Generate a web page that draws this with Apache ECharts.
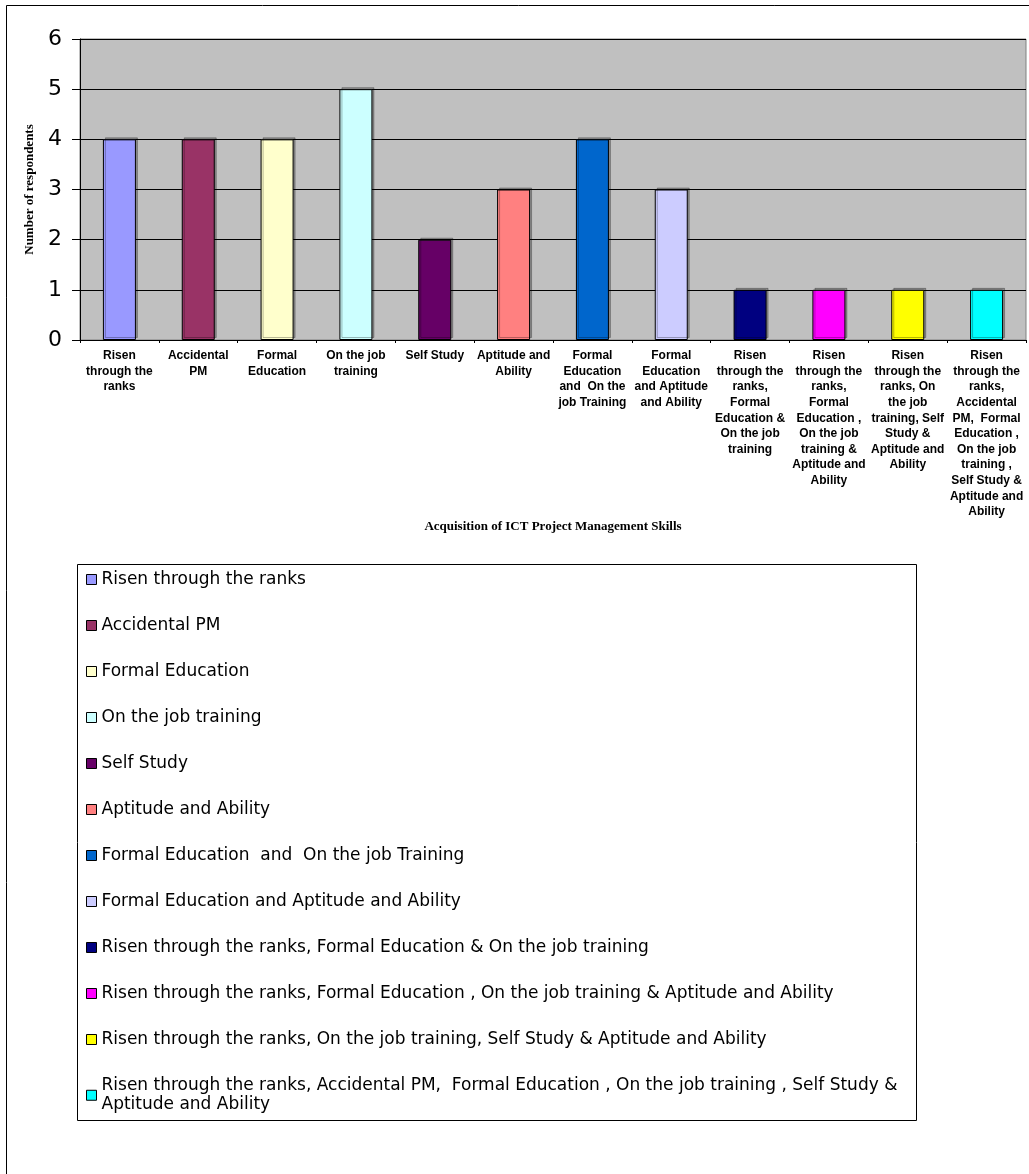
<!DOCTYPE html>
<html>
<head>
<meta charset="utf-8">
<script src="https://cdn.jsdelivr.net/npm/echarts@6/dist/echarts.min.js"></script>
<style>
html,body{margin:0;padding:0;background:#fff;}
#chart{width:1029px;height:1174px;}
</style>
</head>
<body>
<div id="chart"></div>
<script>
const categories = [
  "Risen through the ranks",
  "Accidental PM",
  "Formal Education",
  "On the job training",
  "Self Study",
  "Aptitude and Ability",
  "Formal Education  and  On the job Training",
  "Formal Education and Aptitude and Ability",
  "Risen through the ranks, Formal Education & On the job training",
  "Risen through the ranks, Formal Education , On the job training & Aptitude and Ability",
  "Risen through the ranks, On the job training, Self Study & Aptitude and Ability",
  "Risen through the ranks, Accidental PM,  Formal Education , On the job training , Self Study & Aptitude and Ability"
];
const values = [4, 4, 4, 5, 2, 3, 4, 3, 1, 1, 1, 1];
const colors = ["#9999FF", "#993366", "#FFFFCC", "#CCFFFF", "#660066", "#FF8080",
                "#0066CC", "#CCCCFF", "#000080", "#FF00FF", "#FFFF00", "#00FFFF"];
const tickLabels = [
  "Risen\nthrough the\nranks",
  "Accidental\nPM",
  "Formal\nEducation",
  "On the job\ntraining",
  "Self Study",
  "Aptitude and\nAbility",
  "Formal\nEducation\nand  On the\njob Training",
  "Formal\nEducation\nand Aptitude\nand Ability",
  "Risen\nthrough the\nranks,\nFormal\nEducation &\nOn the job\ntraining",
  "Risen\nthrough the\nranks,\nFormal\nEducation ,\nOn the job\ntraining &\nAptitude and\nAbility",
  "Risen\nthrough the\nranks, On\nthe job\ntraining, Self\nStudy &\nAptitude and\nAbility",
  "Risen\nthrough the\nranks,\nAccidental\nPM,  Formal\nEducation ,\nOn the job\ntraining ,\nSelf Study &\nAptitude and\nAbility"
];
const legendLabels = categories.slice(0, 11).concat([
  "Risen through the ranks, Accidental PM,  Formal Education , On the job training , Self Study &\nAptitude and Ability"
]);
const yMin = 0, yMax = 6, yStep = 1;
const xTitle = "Acquisition of ICT Project Management Skills";
const yTitle = "Number of respondents";

const series = categories.map(function (name, i) {
  return {
    name: name,
    type: 'bar',
    barWidth: 33,
    barGap: '-100%',
    data: values.map(function (v, j) { return j === i ? v : '-'; }),
    itemStyle: {
      color: colors[i],
      borderColor: '#000',
      borderWidth: 1,
      shadowColor: 'rgba(0,0,0,0.28)',
      shadowOffsetX: 2,
      shadowOffsetY: -2,
      shadowBlur: 0
    },
    emphasis: { disabled: true },
    animation: false
  };
});

const chart = echarts.init(document.getElementById('chart'), null, { renderer: 'canvas' });
chart.setOption({
  backgroundColor: '#fff',
  animation: false,
  graphic: [
    {
      type: 'rect', z: -10, silent: true,
      shape: { x: 6.5, y: 5.5, width: 1100, height: 1300 },
      style: { fill: 'none', stroke: '#000', lineWidth: 1 }
    },
    {
      type: 'rect', z: -10, silent: true,
      shape: { x: 77.5, y: 564.5, width: 839, height: 556 },
      style: { fill: 'none', stroke: '#000', lineWidth: 1 }
    }
  ],
  grid: {
    left: 80, top: 39, right: 3, bottom: 834,
    show: true, backgroundColor: '#C0C0C0', borderColor: '#808080', borderWidth: 1,
    containLabel: false
  },
  legend: {
    orient: 'vertical',
    left: 86, top: 569.75,
    padding: 0,
    itemWidth: 10, itemHeight: 10, itemGap: 26.5,
    icon: 'rect',
    selectedMode: false,
    itemStyle: { borderColor: '#000', borderWidth: 1, shadowColor: 'rgba(0,0,0,0)', shadowOffsetX: 0, shadowOffsetY: 0 },
    textStyle: { fontFamily: 'DejaVu Sans', fontSize: 17, lineHeight: 19.5, color: '#000' },
    formatter: function (name) { return legendLabels[categories.indexOf(name)]; },
    data: categories
  },
  xAxis: {
    type: 'category',
    data: categories,
    name: xTitle,
    nameLocation: 'middle',
    nameGap: 172,
    nameTextStyle: { fontFamily: 'Liberation Serif', fontWeight: 'bold', fontSize: 13, color: '#000' },
    axisLine: { show: true, lineStyle: { color: '#000', width: 1 } },
    axisTick: { show: true, length: 3, lineStyle: { color: '#000' } },
    axisLabel: {
      interval: 0, margin: 8,
      fontFamily: 'Liberation Sans', fontWeight: 'bold', fontSize: 12, lineHeight: 15.6, color: '#000',
      align: 'center',
      formatter: function (v, idx) { return tickLabels[idx]; }
    },
    splitLine: { show: false }
  },
  yAxis: {
    type: 'value',
    min: yMin, max: yMax, interval: yStep,
    name: yTitle,
    nameLocation: 'middle',
    nameGap: 44,
    nameRotate: 90,
    nameTextStyle: { fontFamily: 'Liberation Serif', fontWeight: 'bold', fontSize: 13, color: '#000' },
    axisLine: { show: true, lineStyle: { color: '#000', width: 1 } },
    axisTick: { show: true, length: 8, lineStyle: { color: '#000' } },
    axisLabel: { margin: 18, fontFamily: 'DejaVu Sans', fontSize: 22, color: '#000', padding: [4, 0, 0, 0] },
    splitLine: { show: true, lineStyle: { color: '#000', width: 1 } }
  },
  series: series
});
</script>
</body>
</html>
